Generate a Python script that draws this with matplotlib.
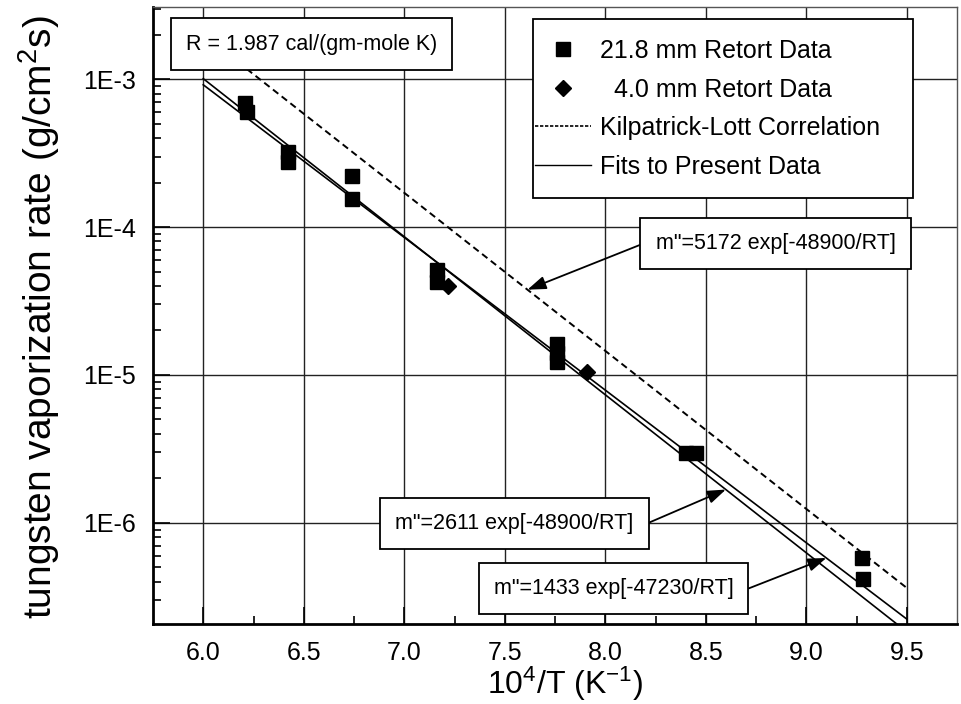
import numpy as np
import matplotlib
matplotlib.use("Agg")
import matplotlib.pyplot as plt
from matplotlib.lines import Line2D
from matplotlib.patches import Rectangle
from matplotlib.ticker import FixedLocator, LogLocator, NullFormatter, FuncFormatter

plt.rcParams['font.family'] = ['Liberation Sans', 'DejaVu Sans']
plt.rcParams['mathtext.default'] = 'regular'

# 21.8 mm retort data (10^4/T, rate g/cm2 s)
sq_x = [6.21, 6.22, 6.42, 6.42, 6.74, 6.74, 7.165, 7.165, 7.76, 7.76, 7.76, 8.40, 8.45, 9.275, 9.28]
sq_y = [6.9e-4, 6.0e-4, 3.2e-4, 2.75e-4, 2.23e-4, 1.56e-4, 5.1e-5, 4.25e-5,
        1.62e-5, 1.4e-5, 1.22e-5, 2.96e-6, 2.96e-6, 5.75e-7, 4.15e-7]
# 4.0 mm retort data
dm_x = [7.22, 7.91]
dm_y = [4.0e-5, 1.04e-5]

R = 1.987
# correlations: (A, E)
kl_A, kl_E = 5172, 48900      # Kilpatrick-Lott
f1_A, f1_E = 2611, 48900      # fit 1
f2_A, f2_E = 1433, 47230      # fit 2
line_x = np.array([6.0, 9.5])


def rate(A, E, x):
    return A * np.exp(-E / R * x * 1e-4)


fig = plt.figure(figsize=(9.62, 7.04), dpi=100)
ax = fig.add_axes([153 / 962, 1 - 624 / 704, 804 / 962, 617 / 704])

ax.set_xlim(5.75, 9.75)
ax.set_ylim(2.07e-7, 3.08e-3)
ax.set_yscale('log')

ax.grid(True, which='major', color='#222222', lw=1.0)
ax.set_axisbelow(True)

ax.plot(line_x, rate(kl_A, kl_E, line_x), color='k', lw=1.4, ls=(0, (3.5, 2.2)), zorder=3)
ax.plot(line_x, rate(f1_A, f1_E, line_x), color='k', lw=1.2, zorder=3)
ax.plot(line_x, rate(f2_A, f2_E, line_x), color='k', lw=1.2, zorder=3)
ax.plot(sq_x, sq_y, 's', color='k', ms=9.5, zorder=4)
ax.plot(dm_x, dm_y, 'D', color='k', ms=8, zorder=4)

# ticks
ax.xaxis.set_major_locator(FixedLocator([6.0, 6.5, 7.0, 7.5, 8.0, 8.5, 9.0, 9.5]))
ax.xaxis.set_minor_locator(FixedLocator([6.25, 6.75, 7.25, 7.75, 8.25, 8.75, 9.25]))
ax.yaxis.set_major_locator(FixedLocator([1e-6, 1e-5, 1e-4, 1e-3]))
ax.yaxis.set_minor_locator(LogLocator(base=10, subs=np.arange(2, 10), numticks=20))
ax.yaxis.set_minor_formatter(NullFormatter())
ax.yaxis.set_major_formatter(FuncFormatter(lambda v, p: '1E%d' % round(np.log10(v))))
ax.xaxis.set_major_formatter(FuncFormatter(lambda v, p: '%.1f' % v))
ax.tick_params(which='both', direction='in', top=False, right=False, labelsize=18)
ax.tick_params(which='major', length=12, width=1.2)
ax.tick_params(which='minor', length=6, width=1.2)
ax.tick_params(axis='x', pad=12)
ax.tick_params(axis='y', pad=12)

for s in ['left', 'bottom']:
    ax.spines[s].set_linewidth(2)
for s in ['top', 'right']:
    ax.spines[s].set_linewidth(1)
    ax.spines[s].set_color('#555555')

ax.set_xlabel('10$^4$/T (K$^{-1}$)', fontsize=23)
ax.xaxis.set_label_coords(0.512, -0.066)
ax.set_ylabel('tungsten vaporization rate (g/cm$^2$s)', fontsize=28)
ax.yaxis.set_label_coords(-0.113, 0.497)

# annotation boxes
box = dict(boxstyle='square,pad=0.7', fc='white', ec='k', lw=1.3)
ax.text(6.538, 1.73e-3, 'R = 1.987 cal/(gm-mole K)', fontsize=15.5,
        ha='center', va='center', bbox=box, zorder=6)
ax.text(8.847, 7.73e-5, 'm"=5172 exp[-48900/RT]', fontsize=15.5,
        ha='center', va='center', bbox=box, zorder=6)
ax.text(7.548, 9.93e-7, 'm"=2611 exp[-48900/RT]', fontsize=15.5,
        ha='center', va='center', bbox=box, zorder=6)
ax.text(8.041, 3.6e-7, 'm"=1433 exp[-47230/RT]', fontsize=15.5,
        ha='center', va='center', bbox=box, zorder=6)

arr = dict(arrowstyle='-|>,head_length=0.7,head_width=0.25', color='k', lw=1.3,
           mutation_scale=16, shrinkA=0, shrinkB=0)
ax.annotate('', xy=(7.613, rate(kl_A, kl_E, 7.613)), xytext=(8.175, 7.6e-5), arrowprops=arr, zorder=5)
ax.annotate('', xy=(8.6, rate(f1_A, f1_E, 8.6)), xytext=(8.21, 9.93e-7), arrowprops=arr, zorder=5)
ax.annotate('', xy=(9.1, rate(f2_A, f2_E, 9.1)), xytext=(8.713, 3.6e-7), arrowprops=arr, zorder=5)

# legend frame drawn separately so the handles can sit close to the left edge
frame = Rectangle((0.4726, 0.6904), 0.4726, 0.290, transform=ax.transAxes,
                  fc='white', ec='k', lw=1.3, zorder=6)
ax.add_patch(frame)

handles = [
    Line2D([], [], marker='s', color='k', ls='none', ms=9.5),
    Line2D([], [], marker='D', color='k', ls='none', ms=8),
    Line2D([], [], color='k', lw=1.2, ls=(0, (2, 1))),
    Line2D([], [], color='k', lw=1.0),
]
labels = ['21.8 mm Retort Data', '  4.0 mm Retort Data',
          'Kilpatrick-Lott Correlation', 'Fits to Present Data']
leg = ax.legend(handles, labels, loc='upper left', bbox_to_anchor=(0.475, 0.948),
                borderaxespad=0, fontsize=18, frameon=False,
                handlelength=2.25, handletextpad=0.35,
                labelspacing=0.58, borderpad=0)
leg.set_zorder(7)

fig.savefig('out.png', dpi=100)
